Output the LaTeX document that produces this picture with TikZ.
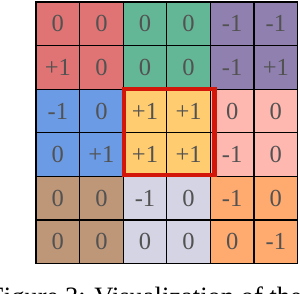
\documentclass[tikz,border=0pt]{standalone}
\usepackage{fontspec}
\setmainfont{Liberation Serif}
\usetikzlibrary{positioning}
\definecolor{cellred}{RGB}{224,116,116}
\definecolor{cellgreen}{RGB}{100,183,150}
\definecolor{cellpurple}{RGB}{143,128,176}
\definecolor{cellblue}{RGB}{108,155,230}
\definecolor{cellyellow}{RGB}{255,204,112}
\definecolor{cellpink}{RGB}{255,184,176}
\definecolor{cellbrown}{RGB}{190,150,120}
\definecolor{celllav}{RGB}{212,212,228}
\definecolor{cellorange}{RGB}{255,170,110}
\definecolor{digitgray}{RGB}{82,82,82}
\definecolor{framered}{RGB}{210,22,10}
\tikzset{
    cellbox/.style={draw=black, line width=1.3pt, minimum size=43.6pt, inner sep=0pt,
        font=\fontsize{24.5}{24.5}\selectfont, text=digitgray},
    redframe/.style={draw=framered, line width=4.4pt}
}

\begin{document}
\begin{tikzpicture}[x=1pt, y=-1pt]
    \useasboundingbox (0,0) rectangle (300,294);
    \clip (0,0) rectangle (300,294);
    % --- 6x6 grid of values, coloured in 2x2 blocks ---
    \foreach \row/\ca/\cb/\cc/\vals in {
        0/cellred/cellgreen/cellpurple/{0,0,0,0,-1,-1},
        1/cellred/cellgreen/cellpurple/{+1,0,0,0,-1,+1},
        2/cellblue/cellyellow/cellpink/{-1,0,+1,+1,0,0},
        3/cellblue/cellyellow/cellpink/{0,+1,+1,+1,-1,0},
        4/cellbrown/celllav/cellorange/{0,0,-1,0,-1,0},
        5/cellbrown/celllav/cellorange/{0,0,0,0,0,-1}}{
        \foreach \v [count=\col from 0] in \vals {
            \ifnum\col<2 \def\fillc{\ca}\else\ifnum\col<4 \def\fillc{\cb}\else\def\fillc{\cc}\fi\fi
            \node[cellbox, fill=\fillc] (c-\row-\col) at ({57.8+43.6*\col},{23.8+43.6*\row}) {\v};
        }
    }
    % Highlighted centre block
    \coordinate (frame-nw) at ([shift={(1.3,0.6)}]c-2-2.north west);
    \coordinate (frame-se) at ([shift={(3.4,-1.8)}]c-3-3.south east);
    \draw[redframe] (frame-nw) rectangle (frame-se);
    % Caption (cut off at the bottom)
    \node[anchor=base west, inner sep=0pt, font=\fontsize{26.5}{26.5}\selectfont] (caption)
        at (-11,305.5) {Figure 3: Visualization of the};
\end{tikzpicture}
\end{document}
